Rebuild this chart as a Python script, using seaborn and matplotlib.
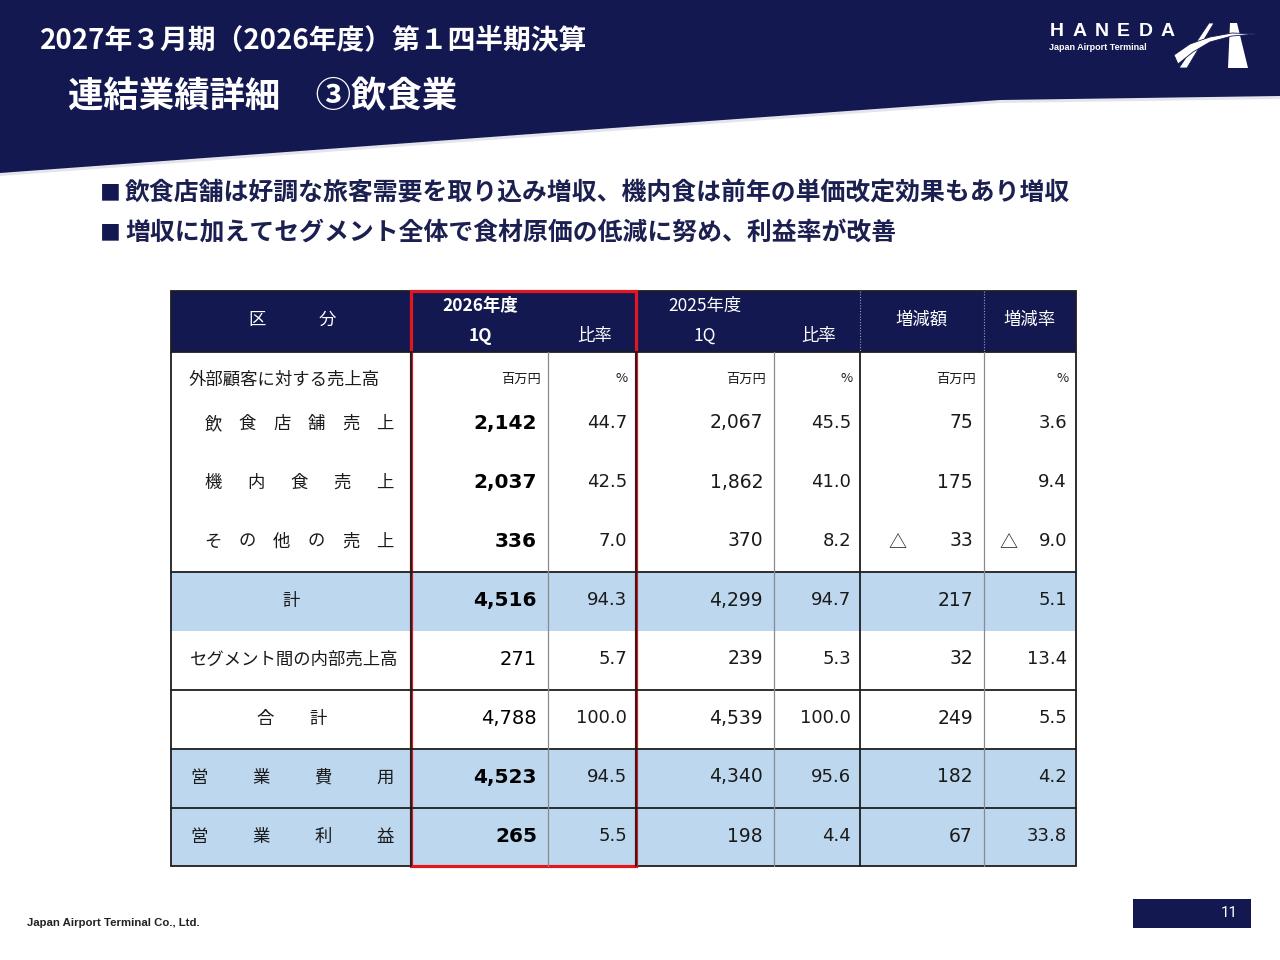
import matplotlib
matplotlib.use("Agg")
import matplotlib.pyplot as plt
from matplotlib.patches import Polygon, Rectangle
import seaborn as sns

# %%
# data (segment: food & beverage, 1Q)
row_labels = ["飲食店舗売上", "機内食売上", "その他の売上", "計",
              "セグメント間の内部売上高", "合計", "営業費用", "営業利益"]
cur_q1 = [2142, 2037, 336, 4516, 271, 4788, 4523, 265]
cur_ratio = [44.7, 42.5, 7.0, 94.3, 5.7, 100.0, 94.5, 5.5]
prev_q1 = [2067, 1862, 370, 4299, 239, 4539, 4340, 198]
prev_ratio = [45.5, 41.0, 8.2, 94.7, 5.3, 100.0, 95.6, 4.4]
diff_amt = [75, 175, -33, 217, 32, 249, 182, 67]
diff_rate = [3.6, 9.4, -9.0, 5.1, 13.4, 5.5, 4.2, 33.8]

title_1 = "2027年３月期（2026年度）第１四半期決算"
title_2 = "連結業績詳細　③飲食業"
bullets = ["飲食店舗は好調な旅客需要を取り込み増収、機内食は前年の単価改定効果もあり増収",
           "増収に加えてセグメント全体で食材原価の低減に努め、利益率が改善"]
units = ["百万円", "%", "百万円", "%", "百万円", "%"]
page_no = "11"

# %%
sns.set_theme(style="white")
plt.rcParams['font.family'] = ['Noto Sans CJK JP', 'DejaVu Sans']

NAVY = '#141850'
LIGHT_BLUE = '#BDD7EE'
RED = '#E2161E'
DARK = '#1e1e1e'
TXT = '#1a1a1a'
NUM_FONT = ['DejaVu Sans']
DY = 2  # Noto CJK sits a bit high with va='center'

fig = plt.figure(figsize=(12.8, 9.6), dpi=100)
ax = fig.add_axes([0, 0, 1, 1])
ax.set_xlim(0, 1280)
ax.set_ylim(960, 0)
ax.axis('off')


def spread(text, x0, x1, y, **kw):
    chars = list(text)
    n = len(chars)
    for i, c in enumerate(chars):
        x = x0 + (x1 - x0) * i / (n - 1) if n > 1 else (x0 + x1) / 2
        ax.text(x, y, c, ha='center', va='center', **kw)


# header band
edge = [(1280, 96), (1000, 100), (640, 126), (300, 151), (0, 173)]
shadow = [(0, 0), (1280, 0)] + [(x, y + 3) for x, y in edge]
ax.add_patch(Polygon(shadow, closed=True, facecolor='#e4e5ec', edgecolor='none'))
ax.add_patch(Polygon([(0, 0), (1280, 0)] + edge, closed=True, facecolor=NAVY, edgecolor='none'))

ax.text(40, 38 + DY, title_1, color='white', fontsize=20, fontweight='bold', ha='left', va='center')
ax.text(68, 95 + DY, title_2, color='white', fontsize=25.5, fontweight='bold', ha='left', va='center')

# logo
spread("HANEDA", 1057, 1168, 32, color='white', fontsize=14, fontweight='bold', family=['Liberation Sans'])
ax.text(1049, 48, "Japan Airport Terminal", color='white', fontsize=6.5, fontweight='bold',
        family=['Liberation Sans'], ha='left', va='center')
ax.add_patch(Polygon([(1230, 23), (1237, 23), (1248, 68), (1228, 68)], facecolor='white', edgecolor='none'))
ax.add_patch(Polygon([(1209, 23), (1214, 23), (1187, 68), (1179, 68)], facecolor='white',
                     edgecolor=NAVY, lw=0.6))
ax.add_patch(Polygon([(1174, 55), (1190, 44), (1210, 37), (1232, 33), (1256, 34), (1232, 36),
                      (1210, 42), (1193, 52), (1178, 64)], facecolor='white', edgecolor=NAVY, lw=0.6))

# bullets
for i, b in enumerate(bullets):
    y = 191 + 40 * i + DY
    ax.text(110, y, "■", color=NAVY, fontsize=15, ha='center', va='center')
    ax.text(125, y, b, color='#1c2050', fontsize=17.9, fontweight='bold', ha='left', va='center')

# table geometry
left, right = 171, 1076
top, head_bot, bottom = 291, 352, 866
num_right = [537, 627, 763, 851, 973, 1067]
row_y = [422, 481, 540, 599, 658, 717, 776, 835]
blue_bands = [(572, 631), (749, 866)]

ax.add_patch(Rectangle((left, top), right - left, head_bot - top, facecolor=NAVY, edgecolor='none'))
for y0, y1 in blue_bands:
    ax.add_patch(Rectangle((left, y0), right - left, y1 - y0, facecolor=LIGHT_BLUE, edgecolor='none'))

# grid lines
for y in [head_bot, 572, 690, 749, 808]:
    ax.plot([left, right], [y, y], color=DARK, lw=1.3)
for x in [411, 636, 860]:
    ax.plot([x, x], [head_bot, bottom], color=DARK, lw=1.3)
for x in [548, 774, 984]:
    ax.plot([x, x], [head_bot, bottom], color='#8a8a8a', lw=0.9)
for x in [860, 984]:
    ax.plot([x, x], [top, head_bot], color='#9aa0b8', lw=0.8, ls=(0, (1, 1.5)))
ax.add_patch(Rectangle((left, top), right - left, bottom - top, facecolor='none', edgecolor=DARK, lw=1.3))

# header labels
hk = dict(color='white', fontsize=12.5)
spread("区分", 257, 327, 318 + DY, **hk)
ax.text(480, 304 + DY, "2026年度", ha='center', va='center', fontweight='bold', **hk)
ax.text(480, 334 + DY, "1Q", ha='center', va='center', fontweight='bold', **hk)
ax.text(595, 334 + DY, "比率", ha='center', va='center', **hk)
ax.text(705, 304 + DY, "2025年度", ha='center', va='center', **hk)
ax.text(705, 334 + DY, "1Q", ha='center', va='center', **hk)
ax.text(819, 334 + DY, "比率", ha='center', va='center', **hk)
ax.text(922, 318 + DY, "増減額", ha='center', va='center', **hk)
ax.text(1030, 318 + DY, "増減率", ha='center', va='center', **hk)

# units row
ax.text(189, 378 + DY, "外部顧客に対する売上高", color=TXT, fontsize=12.5, ha='left', va='center')
unit_right = [541, 628, 766, 853, 976, 1069]
for u, x in zip(units, unit_right):
    ax.text(x, 377 + DY, u, color=TXT, fontsize=9.5, ha='right', va='center')

# row labels
label_layout = {
    "飲食店舗売上": ("spread", 213, 385),
    "機内食売上": ("spread", 213, 385),
    "その他の売上": ("spread", 213, 385),
    "計": ("center", 291),
    "セグメント間の内部売上高": ("center", 294),
    "合計": ("spread", 265, 318),
    "営業費用": ("spread", 199, 385),
    "営業利益": ("spread", 199, 385),
}
plain_rows = {"セグメント間の内部売上高", "合計"}
lk = dict(color=TXT, fontsize=12.5)
for lab, y in zip(row_labels, row_y):
    mode = label_layout[lab]
    if mode[0] == "spread":
        spread(lab, mode[1], mode[2], y + DY, **lk)
    else:
        ax.text(mode[1], y + DY, lab, ha='center', va='center', **lk)

# values
for i, lab in enumerate(row_labels):
    y = row_y[i] + 1
    bold = lab not in plain_rows
    ax.text(num_right[0], y + 0.5, f"{cur_q1[i]:,}", ha='right', va='center', color='black',
            family=NUM_FONT, fontsize=14.5 if bold else 14, fontweight='bold' if bold else 'normal')
    ax.text(num_right[1], y, f"{cur_ratio[i]:.1f}", ha='right', va='center', color=TXT,
            family=NUM_FONT, fontsize=13)
    ax.text(num_right[2], y, f"{prev_q1[i]:,}", ha='right', va='center', color=TXT,
            family=NUM_FONT, fontsize=13.5)
    ax.text(num_right[3], y, f"{prev_ratio[i]:.1f}", ha='right', va='center', color=TXT,
            family=NUM_FONT, fontsize=13)
    d = diff_amt[i]
    ax.text(num_right[4], y, f"{abs(d):,}", ha='right', va='center', color=TXT,
            family=NUM_FONT, fontsize=13.5)
    if d < 0:
        ax.text(897, y + DY, "△", ha='center', va='center', color=TXT, fontsize=13)
    r = diff_rate[i]
    ax.text(num_right[5], y, f"{abs(r):.1f}", ha='right', va='center', color=TXT,
            family=NUM_FONT, fontsize=13)
    if r < 0:
        ax.text(1008, y + DY, "△", ha='center', va='center', color=TXT, fontsize=13)

# highlight current year
ax.add_patch(Rectangle((411, top), 636 - 411, bottom - top, facecolor='none', edgecolor=RED, lw=2.3))

# footer
ax.text(27, 923, "Japan Airport Terminal Co., Ltd.", color='#222222', fontsize=8.2, fontweight='bold',
        family=['Liberation Sans'], ha='left', va='center')
ax.add_patch(Rectangle((1133, 899), 118, 29, facecolor=NAVY, edgecolor='none'))
ax.text(1238, 913, page_no, color='white', fontsize=11, family=['Roboto'], ha='right', va='center')

fig.savefig("out.png", dpi=100)
